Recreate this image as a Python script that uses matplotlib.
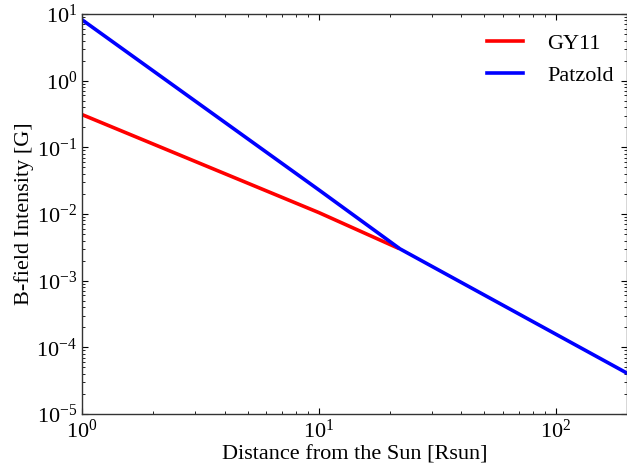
import matplotlib
matplotlib.use("Agg")
import matplotlib.pyplot as plt
import numpy as np

# valores (raio em Rsun, campo em Gauss)
r_gy11 = [1.0, 10.0, 21.5]
b_gy11 = [0.31, 0.0105, 3.1e-3]

r_patzold = [1.0, 10.0, 22.0, 200.0]
b_patzold = [8.2, 0.023, 3.0e-3, 4.1e-5]

plt.rcParams['font.family'] = ['Liberation Serif', 'DejaVu Serif']
plt.rcParams['mathtext.fontset'] = 'stix'
plt.rcParams['font.size'] = 16

fig = plt.figure(figsize=(6.27, 4.67), dpi=100)
ax = fig.add_axes([0.1308, 0.1135, 0.8692, 0.8565])

ax.plot(r_gy11, b_gy11, color='red', linewidth=2.6, label='GY11')
ax.plot(r_patzold, b_patzold, color='blue', linewidth=2.6, label='Patzold')

ax.set_xscale('log')
ax.set_yscale('log')
ax.set_xlim(1, 200)
ax.set_ylim(1e-5, 1e1)

ax.tick_params(which='both', direction='in', top=True, right=True, labelsize=16)
ax.tick_params(which='major', length=4, width=0.8)
ax.tick_params(which='minor', length=2, width=0.6)
ax.tick_params(axis='x', pad=4)
for s in ax.spines.values():
    s.set_color('#333333')
    s.set_linewidth(1.0)

ax.set_xlabel("Distance from the Sun [Rsun]", fontsize=16, labelpad=2)
ax.set_ylabel("B-field Intensity [G]", fontsize=16, labelpad=2)
ax.legend(loc='upper right', bbox_to_anchor=(1.0, 0.985), frameon=False, fontsize=16,
          handlelength=1.6, handletextpad=1.1, borderaxespad=0.2)

fig.savefig("out.png", dpi=100)
